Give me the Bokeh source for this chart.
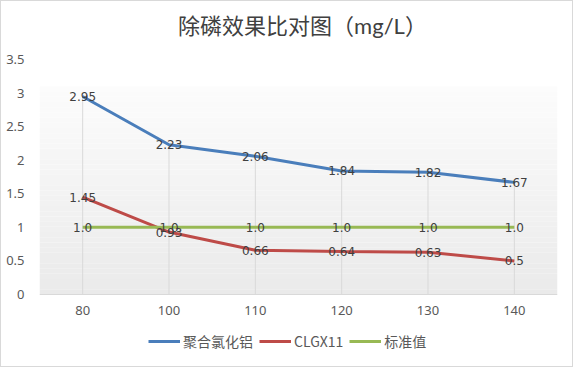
from bokeh.plotting import figure
from bokeh.models import FactorRange, FixedTicker, BoxAnnotation, Legend, LegendItem, ColumnDataSource, Label
from bokeh.core.properties import value
from bokeh.embed import file_html
from bokeh.resources import INLINE

categories = ["80", "100", "110", "120", "130", "140"]
pac = [2.95, 2.23, 2.06, 1.84, 1.82, 1.67]
clgx = [1.45, 0.93, 0.66, 0.64, 0.63, 0.5]
standard = [1.0, 1.0, 1.0, 1.0, 1.0, 1.0]
series_names = ["聚合氯化铝", "CLGX11", "标准值"]
y_ticks = [0, 0.5, 1, 1.5, 2, 2.5, 3, 3.5]
title_text = "除磷效果比对图（mg/L）"

colors = ["#4A7EBB", "#BE4B48", "#98B954"]
mixed_font = "Lato, 'Noto Sans CJK SC'"
legend_font = "'Liberation Sans Narrow', 'Noto Sans CJK SC'"

p = figure(width=573, height=367, x_range=FactorRange(*categories, range_padding=0),
           y_range=(-0.998, 4.364), output_backend="svg", toolbar_location=None,
           min_border_left=38, min_border_right=17, min_border_top=0, min_border_bottom=7)
p.styles = {"border": "1px solid #d9d9d9"}

# title drawn inside the (extended) frame
p.add_layout(Label(x=263, y=336, x_units="screen", y_units="screen", text=title_text,
                   text_align="center", text_baseline="middle", text_font=mixed_font,
                   text_font_size="22px", text_color="#404040"))

# gradient background (style)
n = 40
top_val = 3.1
c0, c1 = 0xfc, 0xea
for i in range(n):
    b = top_val * i / n
    t = top_val * (i + 1) / n
    frac = (i + 0.5) / n
    g = int(round(c1 + (c0 - c1) * frac))
    col = "#%02x%02x%02x" % (g, g, g)
    p.add_layout(BoxAnnotation(bottom=b, top=t, fill_color=col, fill_alpha=1,
                               line_color=None, level="underlay"))

p.grid.visible = False
p.outline_line_color = None
p.background_fill_color = "white"

# drop lines
p.segment(x0=categories, y0=[0] * len(categories), x1=categories, y1=pac,
          line_color="#d9d9d9", line_width=1)

renderers = []
for vals, col in zip([pac, clgx, standard], colors):
    r = p.line(categories, vals, line_color=col, line_width=3)
    renderers.append(r)

for vals in [pac, clgx, standard]:
    src = ColumnDataSource(dict(x=categories, y=vals, t=[str(v) for v in vals]))
    p.text(x="x", y="y", text="t", source=src, text_align="center", text_baseline="middle",
           text_font_size="12px", text_color="#404040", text_font=value("DejaVu Sans"))

p.yaxis.ticker = FixedTicker(ticks=y_ticks)
p.yaxis.major_label_overrides = {v: ("%g" % v) for v in y_ticks}
p.yaxis.axis_line_color = None
p.yaxis.major_tick_line_color = None
p.yaxis.minor_tick_line_color = None
p.yaxis.major_label_standoff = 9
p.yaxis.major_label_text_font = "Noto Sans"
p.yaxis.major_label_text_font_size = "13px"
p.yaxis.major_label_text_color = "#595959"

p.xaxis.fixed_location = 0
p.xaxis.axis_line_color = "#d9d9d9"
p.xaxis.major_tick_line_color = None
p.xaxis.minor_tick_line_color = None
p.xaxis.major_label_standoff = 6
p.xaxis.major_label_text_font = "Noto Sans"
p.xaxis.major_label_text_font_size = "13px"
p.xaxis.major_label_text_color = "#595959"

legend = Legend(items=[LegendItem(label=nm, renderers=[r]) for nm, r in zip(series_names, renderers)],
                orientation="horizontal", location=(109, 10),
                glyph_width=32, glyph_height=14, label_standoff=3, spacing=6,
                padding=0, margin=0, border_line_color=None, background_fill_alpha=0,
                label_text_font=legend_font, label_text_font_size="14px",
                label_text_color="#595959")
p.add_layout(legend, "center")

open("out.html", "w").write(file_html(p, INLINE))
